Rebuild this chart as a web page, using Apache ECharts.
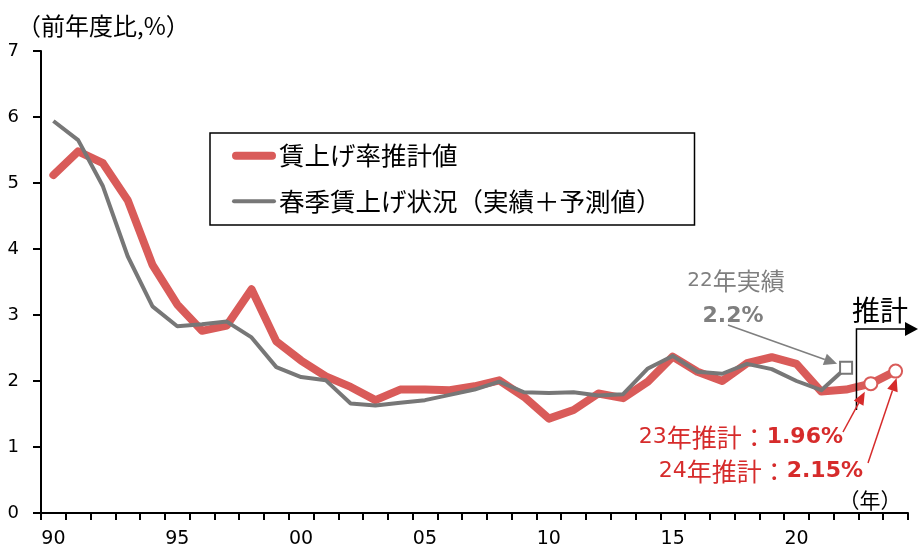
<!DOCTYPE html>
<html><head><meta charset="utf-8">
<script src="https://cdn.jsdelivr.net/npm/echarts@6/dist/echarts.min.js"></script>
<style>html,body{margin:0;padding:0;background:#fff}#c{width:918px;height:545px}</style>
</head><body><div id="c"></div>
<script>
// ---- data ----
const years = ['90','91','92','93','94','95','96','97','98','99','00','01','02','03','04','05','06','07','08','09','10','11','12','13','14','15','16','17','18','19','20','21','22','23','24'];
const wageEstimate = [5.12,5.48,5.30,4.74,3.76,3.16,2.76,2.84,3.39,2.60,2.31,2.07,1.91,1.71,1.87,1.87,1.86,1.92,2.01,1.76,1.43,1.56,1.81,1.74,1.99,2.37,2.14,2.00,2.27,2.36,2.26,1.84,1.87,1.96,2.15];
const shuntoRate = [5.94,5.65,4.95,3.89,3.13,2.83,2.86,2.90,2.66,2.21,2.06,2.01,1.66,1.63,1.67,1.71,1.79,1.87,1.99,1.83,1.82,1.83,1.78,1.80,2.19,2.38,2.14,2.11,2.26,2.18,2.00,1.86,2.20];
const yTicks = [0,1,2,3,4,5,6,7];
const seriesNames = ['賃上げ率推計値','春季賃上げ状況（実績＋予測値）'];
const forecastStart = 33; // index of '23'

const RED = '#d95b59', GRAY = '#777777', TXTRED = '#d62b2b', TXTGRAY = '#7f7f7f';
const FONT = '"DejaVu Sans","Noto Sans CJK JP",sans-serif';
const JP = '"Noto Sans CJK JP",sans-serif';

const redData = wageEstimate.map((v,i)=> i>=forecastStart ? {value:v, symbol:'circle', symbolSize:13, itemStyle:{color:'#fff', borderColor:RED, borderWidth:2}} : {value:v});
const grayData = shuntoRate.map((v,i)=> i===shuntoRate.length-1 ? {value:v, symbol:'rect', symbolSize:12, itemStyle:{color:'#fff', borderColor:GRAY, borderWidth:2}} : {value:v});

const chart = echarts.init(document.getElementById('c'), null, {renderer:'canvas'});
chart.setOption({
  animation:false,
  backgroundColor:'#fff',
  textStyle:{fontFamily:FONT},
  title:{text:'（前年度比,%）', left:17, top:14, padding:0, textStyle:{fontFamily:JP, fontSize:24, fontWeight:'normal', color:'#000'}},
  grid:{left:41, right:10, top:51, bottom:32, containLabel:false, outerBoundsMode:'none'},
  legend:{
    orient:'vertical', left:210, top:133, padding:[10,33,11,22], itemGap:20,
    borderColor:'#000', borderWidth:1.5, backgroundColor:'#fff',
    itemWidth:44, itemHeight:8, symbolKeepAspect:true,
    itemStyle:{borderWidth:0},
    textStyle:{fontFamily:JP, fontSize:25.5, color:'#000', padding:[0,0,0,-2]},
    data:[
      {name:seriesNames[0], icon:'path://M4,0 L40,0 A4,4 0 0 1 40,8 L4,8 A4,4 0 0 1 4,0 Z'},
      {name:seriesNames[1], icon:'path://M2,0 L42,0 A2,2 0 0 1 42,4 L2,4 A2,2 0 0 1 2,0 Z'}
    ]
  },
  xAxis:{
    type:'category', data:years, boundaryGap:true,
    axisLine:{lineStyle:{color:'#000', width:2}},
    axisTick:{show:true, interval:0, length:7, lineStyle:{color:'#000', width:2}},
    axisLabel:{interval:4, fontSize:19, color:'#000', margin:17, fontFamily:FONT},
    splitLine:{show:false}
  },
  yAxis:{
    type:'value', min:yTicks[0], max:yTicks[yTicks.length-1], interval:1,
    axisLine:{show:true, lineStyle:{color:'#000', width:2}},
    axisTick:{show:true, length:8, lineStyle:{color:'#000', width:2}},
    axisLabel:{fontSize:18, color:'#000', margin:22, fontFamily:FONT},
    splitLine:{show:false}
  },
  series:[
    {name:seriesNames[0], type:'line', data:redData, symbol:'none', showAllSymbol:true, z:2,
     color:RED, lineStyle:{color:RED, width:8, cap:'round', join:'round'}, itemStyle:{color:RED}},
    {name:seriesNames[1], type:'line', data:grayData, symbol:'none', showAllSymbol:true, z:3,
     color:GRAY, lineStyle:{color:GRAY, width:4, join:'round'}, itemStyle:{color:GRAY}}
  ]
});

function px(i, v){ return chart.convertToPixel({gridIndex:0}, [i, v]); }
function arrow(x1,y1,x2,y2,color,w,hl,hw){
  const dx=x2-x1, dy=y2-y1, L=Math.hypot(dx,dy), ux=dx/L, uy=dy/L;
  const bx=x2-ux*hl, by=y2-uy*hl, nx=-uy, ny=ux;
  return [
    {type:'line', shape:{x1:x1,y1:y1,x2:bx,y2:by}, style:{stroke:color, lineWidth:w}, z:100},
    {type:'polygon', shape:{points:[[x2,y2],[bx+nx*hw,by+ny*hw],[bx-nx*hw,by-ny*hw]]}, style:{fill:color}, z:100}
  ];
}
const p22 = px(shuntoRate.length-1, shuntoRate[shuntoRate.length-1]);
const p23 = px(forecastStart, wageEstimate[forecastStart]);
const p24 = px(forecastStart+1, wageEstimate[forecastStart+1]);
const pBoundary = (px(forecastStart-1,0)[0] + p23[0]) / 2 - 2;
const g = [];
g.push(...arrow(728,325,p22[0]-9,p22[1]-4,TXTGRAY,1.5,13,6));
g.push(...arrow(843,432,p23[0]-6,p23[1]+8,TXTRED,1.5,13,5.5));
g.push(...arrow(868,463,p24[0]+1,p24[1]+7,TXTRED,1.5,13,5.5));
// forecast marker
g.push({type:'polyline', shape:{points:[[pBoundary,410],[pBoundary,329],[906,329]]}, style:{stroke:'#000', lineWidth:1.5, fill:null}, z:90});
g.push({type:'polygon', shape:{points:[[918,329],[905,322],[905,336]]}, style:{fill:'#000'}, z:90});
g.push({type:'text', x:880, y:310, style:{text:'推計', font:'28px '+JP, fill:'#000', align:'center', verticalAlign:'middle'}, z:100});
g.push({type:'text', x:736, y:281, style:{text:'{n|22}{c|年実績}', align:'center', verticalAlign:'middle', rich:{n:{fontFamily:FONT, fontSize:20, fill:TXTGRAY}, c:{fontFamily:JP, fontSize:24, fill:TXTGRAY}}}, z:100});
g.push({type:'text', x:733, y:316, style:{text: shuntoRate[shuntoRate.length-1].toFixed(1)+'%', font:'bold 22px '+FONT, fill:TXTGRAY, align:'center', verticalAlign:'middle'}, z:100});
g.push({type:'text', x:843, y:437, style:{text:'{n|23}{c|年推計：}{b|'+wageEstimate[forecastStart].toFixed(2)+'%}', align:'right', verticalAlign:'middle', rich:{n:{fontFamily:FONT, fontSize:22, fill:TXTRED}, c:{fontFamily:JP, fontSize:25, fill:TXTRED}, b:{fontFamily:FONT, fontSize:22, fontWeight:'bold', fill:TXTRED}}}, z:100});
g.push({type:'text', x:863, y:471, style:{text:'{n|24}{c|年推計：}{b|'+wageEstimate[forecastStart+1].toFixed(2)+'%}', align:'right', verticalAlign:'middle', rich:{n:{fontFamily:FONT, fontSize:22, fill:TXTRED}, c:{fontFamily:JP, fontSize:25, fill:TXTRED}, b:{fontFamily:FONT, fontSize:22, fontWeight:'bold', fill:TXTRED}}}, z:100});
g.push({type:'text', x:870, y:500, style:{text:'（年）', font:'21px '+JP, fill:'#000', align:'center', verticalAlign:'middle'}, z:100});
chart.setOption({graphic:g});
</script></body></html>
